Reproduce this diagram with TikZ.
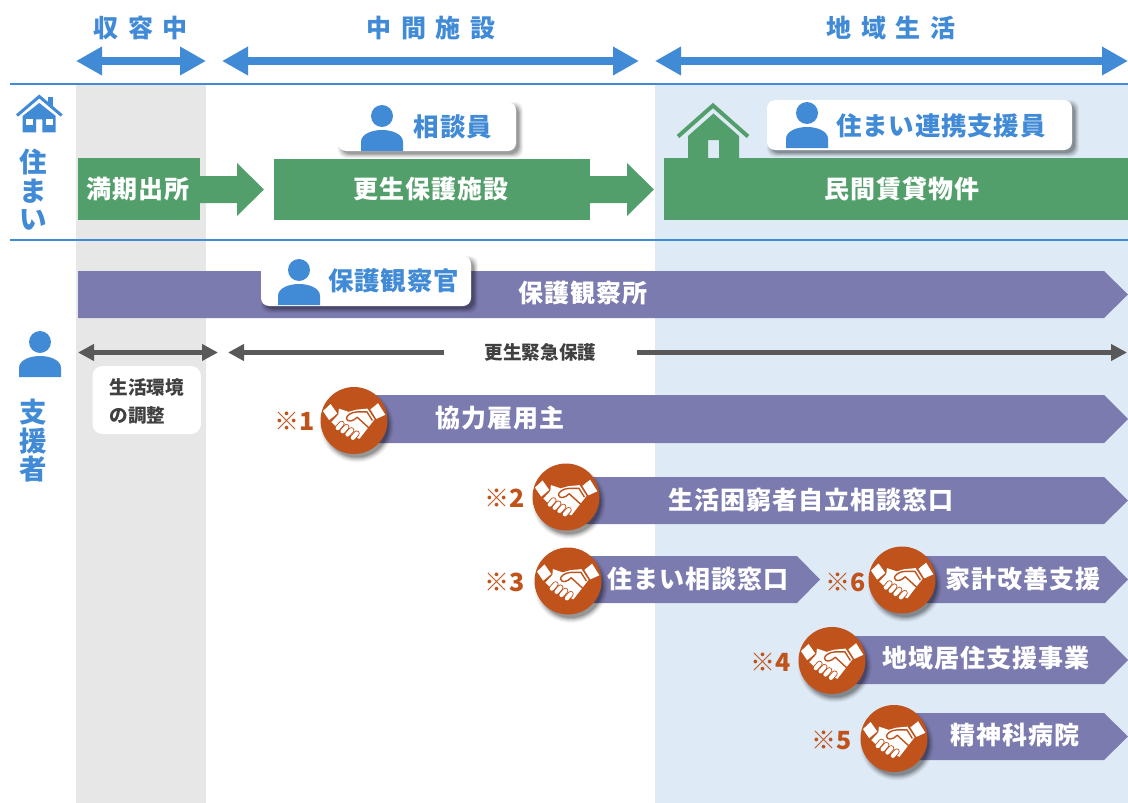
\documentclass[tikz,border=0pt]{standalone}
\usepackage{fontspec}
\setmainfont{Noto Sans CJK JP}
\newfontfamily\cjk[LetterSpace=4]{Noto Sans CJK JP}
\newfontfamily\cjkcall[LetterSpace=3]{Noto Sans CJK JP}
\newfontfamily\cjkwide[LetterSpace=38]{Noto Sans CJK JP}
\newfontfamily\cjkplain{Noto Sans CJK JP}
\usetikzlibrary{arrows.meta,calc}
\definecolor{blueC}{HTML}{418AD6}
\definecolor{greenC}{HTML}{539F6B}
\definecolor{purpC}{HTML}{7C7BB0}
\definecolor{orgC}{HTML}{C0531B}
\definecolor{grayC}{HTML}{E7E7E7}
\definecolor{paleC}{HTML}{DEEAF6}
\definecolor{darkC}{HTML}{595959}
\newcommand{\refmark}[1]{{\mdseries ※}#1}
\tikzset{
 bluearrow/.style={draw=blueC,line width=8pt,{Triangle[length=26pt,width=27pt]}-{Triangle[length=26pt,width=27pt]}},
 darkarrow/.style={draw=darkC,line width=5pt},
 ruleline/.style={draw=blueC,line width=2pt},
 headtxt/.style={text=blueC,font=\fontsize{25}{25}\selectfont\cjkwide\bfseries,inner sep=0pt},
 sidetxt/.style={text=blueC,font=\fontsize{27.5}{28}\selectfont\cjkplain\bfseries,inner sep=0pt},
 whitetxt/.style={text=white,font=\fontsize{25}{25}\selectfont\cjk\bfseries,inner sep=0pt},
 calltxt/.style={text=blueC,font=\fontsize{25.5}{25}\selectfont\cjkcall\bfseries,inner sep=0pt},
 notetxt/.style={text=orgC,font=\fontsize{25}{25}\selectfont\cjkplain\bfseries,inner sep=0pt},
 darktxt/.style={text=black!75,font=\fontsize{18.6}{20}\selectfont\cjkplain\bfseries,inner sep=0pt},
 person/.pic={
   \fill[blueC] (0,-14) circle (11);
   \fill[blueC] (-21,21) -- (-21,12) .. controls (-21,4) and (-10,0) .. (0,0) .. controls (10,0) and (21,4) .. (21,12) -- (21,21) -- cycle;
 },
 deal/.pic={
   \foreach \e/\o in {5/.04,4/.05,3/.07,2/.09,1/.11,0/.14}{
     \fill[black,opacity=\o] (3,5) circle ({32+\e});}
   \fill[orgC] (0,0) circle (33.5);
   \begin{scope}[scale=1.08]
   \fill[white] (-28.7,-8.7) -- (-21.7,-15.3) -- (-15.5,-6.5) -- (-23,-0.3) -- cycle;
   \fill[white] (15.2,-10.3) -- (22.3,-16) -- (29,-5.3) -- (20.7,-1.5) -- cycle;
   \fill[white] (-14,-11) -- (-5,-8) -- (2,-10) -- (12.5,-11) -- (19,-1) -- (5,17) -- (-15,7) -- (-21,1.5) -- (-14.5,-5.5) -- cycle;
   \foreach \px/\py in {-15/7,-10.5/10,-6/13,-1/16}{
     \draw[orgC,line width=6pt,line cap=round] (\px,\py) -- ++(3.5,-4);
     \draw[white,line width=4.2pt,line cap=round] (\px,\py) -- ++(3.5,-4);}
   \draw[orgC,line width=1.4pt,line join=round] (17,0) -- (12,-8) -- (3,-8) .. controls (-3,-8) and (-7,-4) .. (-7,-2) .. controls (-6,2) and (-1,1) .. (3,-3) -- (15,8);
   \end{scope}
 },
}
\newcommand{\bandshape}[5]{% x0, xbody, xtip, top, bottom
  \fill[purpC] (#1,#4) -- (#2,#4) -- (#3,{(#4+#5)/2}) -- (#2,#5) -- (#1,#5) -- cycle;}
\newcommand{\cardshape}[4]{% x0,y0,x1,y1
  \foreach \e/\o in {4/.05,3/.07,2/.09,1/.11,0/.14}{
    \fill[black,opacity=\o,rounded corners=8pt] (#1+4-\e,#2+4-\e) rectangle (#3+3+\e,#4+3+\e);}
  \fill[white,rounded corners=8pt] (#1,#2) rectangle (#3,#4);}
\begin{document}
\begin{tikzpicture}[x=1pt,y=-1pt]
\useasboundingbox (0,0) rectangle (1128,803);
% bands
\fill[grayC] (76,85) rectangle (206,803);
\fill[paleC] (655,85) rectangle (1128,803);
\draw[ruleline] (10,84) -- (1128,84);
\draw[ruleline] (10,240) -- (1128,240);
% top labels and arrows
\node[headtxt] (h1) at (140.5,28) {収容中};
\node[headtxt] (h2) at (431,28) {中間施設};
\node[headtxt] (h3) at (891,28) {地域生活};
\coordinate (a1l) at (76,61); \coordinate (a1r) at (206,61);
\coordinate (a2l) at (222,61); \coordinate (a2r) at (639,61);
\coordinate (a3l) at (655,61); \coordinate (a3r) at (1128,61);
\draw[bluearrow] (a1l) -- (a1r);
\draw[bluearrow] (a2l) -- (a2r);
\draw[bluearrow] (a3l) -- (a3r);
% small house
\draw[blueC,line width=3pt,miter limit=4] (17,115.5) -- (39.3,96.5) -- (61.7,115.5);
\fill[blueC] (48.3,97) rectangle (53.3,106);
\fill[blueC] (22.7,132.3) -- (22.7,116) -- (39.3,103) -- (55.7,116) -- (55.7,132.3) -- (42.3,132.3) -- (42.3,119.3) -- (36,119.3) -- (36,132.3) -- cycle;
\fill[white] (25.7,119.3) rectangle (32.7,125);
\fill[white] (46,119.3) rectangle (53.3,125);
% side labels
\node[sidetxt] (s1) at (33,162) {住};
\node[sidetxt] (s2) at (33,191) {ま};
\node[sidetxt] (s3) at (33,220) {い};
\pic at (40,356) {person};
\node[sidetxt] (s4) at (33,412) {支};
\node[sidetxt] (s5) at (33,441) {援};
\node[sidetxt] (s6) at (33,469) {者};
% green row
\fill[greenC] (78,158) rectangle (200,220);
\fill[greenC] (200,176) -- (237,176) -- (237,163) -- (264,189.5) -- (237,216) -- (237,203) -- (200,203) -- cycle;
\fill[greenC] (274,159) rectangle (590,220);
\fill[greenC] (590,176) -- (627,176) -- (627,163) -- (654,189.5) -- (627,216) -- (627,203) -- (590,203) -- cycle;
\fill[greenC] (664,158) rectangle (1128,220);
\draw[greenC,line width=4pt] (678,136.5) -- (713,105.5) -- (748,136.5);
\fill[greenC] (688,158) -- (688,136) -- (713.5,113.5) -- (739,136) -- (739,158) -- (719,158) -- (719,140) -- (708,140) -- (708,158) -- cycle;
\node[whitetxt] (g1) at (138,189) {満期出所};
\node[whitetxt] (g2) at (431,189) {更生保護施設};
\node[whitetxt] (g3) at (901.5,189) {民間賃貸物件};
% cards row 1
\cardshape{338}{102}{516}{151}
\pic at (382,130) {person};
\node[calltxt] (c1) at (453,127) {相談員};
\cardshape{767}{100}{1072}{150}
\pic at (807,127) {person};
\node[calltxt] (c2) at (941,126) {住まい連携支援員};
% protection office
\bandshape{78}{1104}{1128}{271}{318}
\node[whitetxt] (b0) at (583,293) {保護観察所};
\cardshape{261}{256}{471}{306}
\pic at (299,284) {person};
\node[calltxt] (c3) at (393.5,281) {保護観察官};
% dark arrows
\coordinate (d1l) at (78,352.5); \coordinate (d1r) at (218,352.5);
\coordinate (d2l) at (228,352.5); \coordinate (d2r) at (1127,352.5);
\node[darktxt,minimum width=193pt,minimum height=20pt] (kyu) at (540.5,352.5) {更生緊急保護};
\draw[darkarrow,{Triangle[length=16pt,width=16pt]}-{Triangle[length=16pt,width=16pt]}] (d1l) -- (d1r);
\draw[darkarrow,-{Triangle[length=16pt,width=16pt]}] (kyu) -- (d2l);
\draw[darkarrow,-{Triangle[length=16pt,width=16pt]}] (kyu) -- (d2r);
% env box
\fill[white,rounded corners=10pt] (92.5,366) rectangle (201,434);
\node[darktxt,anchor=west] (e1) at (109.5,387) {生活環境};
\node[darktxt,anchor=west] (e2) at (109.5,415) {の調整};
% purple bands
\bandshape{355}{1104}{1128}{395}{443}
\node[whitetxt] (b1) at (500,418) {協力雇用主};
\pic at (354,420.5) {deal};
\node[notetxt] (n1) at (295,421) {\refmark{1}};
\bandshape{567}{1104}{1128}{477}{524}
\node[whitetxt] (b2) at (811,500) {生活困窮者自立相談窓口};
\pic at (566,497) {deal};
\node[notetxt] (n2) at (505,498) {\refmark{2}};
\bandshape{570}{797}{820}{556}{603}
\node[whitetxt] (b3) at (698,579) {住まい相談窓口};
\pic at (568,581) {deal};
\node[notetxt] (n3) at (505,582) {\refmark{3}};
\bandshape{905}{1105}{1128}{556}{603}
\node[whitetxt] (b6) at (1023,579) {家計改善支援};
\pic at (902,580) {deal};
\node[notetxt] (n6) at (846,582) {\refmark{6}};
\bandshape{835}{1104}{1128}{636}{684}
\node[whitetxt] (b4) at (986,658) {地域居住支援事業};
\pic at (832,660.5) {deal};
\node[notetxt] (n4) at (771,662) {\refmark{4}};
\bandshape{897}{1104}{1128}{713}{760}
\node[whitetxt] (b5) at (1015,735) {精神科病院};
\pic at (894,738.5) {deal};
\node[notetxt] (n5) at (832,740) {\refmark{5}};
\end{tikzpicture}
\end{document}
